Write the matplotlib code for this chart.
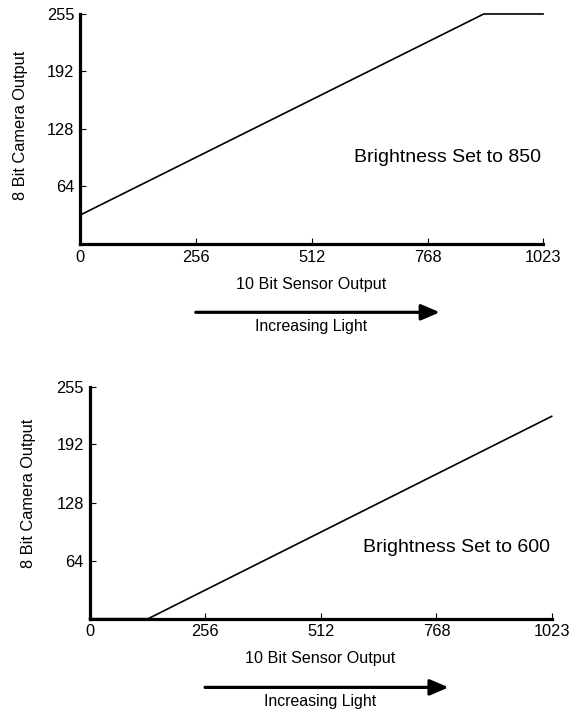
import matplotlib
matplotlib.use("Agg")
import matplotlib.pyplot as plt

plt.rcParams['font.family'] = ['Liberation Sans', 'DejaVu Sans']

# Data
x_ticks = [0, 256, 512, 768, 1023]
y_ticks = [64, 128, 192, 255]

top_x = [0, 892, 1023]
top_y = [32, 255, 255]
top_label = "Brightness Set to 850"

bot_x = [0, 130, 1023]
bot_y = [0, 0, 223]
bot_label = "Brightness Set to 600"

xlabel = "10 Bit Sensor Output"
ylabel = "8 Bit Camera Output"
arrow_label = "Increasing Light"

fig = plt.figure(figsize=(5.79, 7.13), dpi=100)

panels = [
    ([0.1382, 0.6578, 0.7997, 0.3226], top_x, top_y, top_label, 0.374, 0.517, -0.112),
    ([0.1546, 0.1323, 0.7982, 0.3245], bot_x, bot_y, bot_label, 0.306, 0.54, -0.116),
]

for rect, xs, ys, lab, ty, ylab_y, ylab_x in panels:
    ax = fig.add_axes(rect)
    ax.plot(xs, ys, color='black', lw=1.2, clip_on=False, solid_joinstyle='miter')
    ax.set_xlim(0, 1023)
    ax.set_ylim(0, 255)
    ax.spines['top'].set_visible(False)
    ax.spines['right'].set_visible(False)
    for s in ('left', 'bottom'):
        ax.spines[s].set_linewidth(2.3)
    ax.set_xticks(x_ticks)
    ax.set_xticklabels([str(v) for v in x_ticks])
    ax.set_yticks(y_ticks)
    ax.set_yticklabels([str(v) for v in y_ticks])
    ax.tick_params(direction='in', length=4, width=0.8, labelsize=11.8, pad=4)
    ax.set_ylabel(ylabel, fontsize=11.8)
    ax.yaxis.set_label_coords(ylab_x, ylab_y)
    ax.text(0.793, ty, lab, transform=ax.transAxes, ha='center', va='center', fontsize=14)
    ax.text(0.499, -0.174, xlabel, transform=ax.transAxes, ha='center', va='center', fontsize=11.6)
    ax.annotate('', xy=(0.777, -0.297), xytext=(0.25, -0.297),
                xycoords='axes fraction', textcoords='axes fraction',
                arrowprops=dict(arrowstyle='-|>,head_length=0.7,head_width=0.3',
                                lw=2.3, color='black', mutation_scale=16,
                                shrinkA=0, shrinkB=0))
    ax.text(0.499, -0.358, arrow_label, transform=ax.transAxes, ha='center', va='center', fontsize=11.4)

fig.savefig('out.png', dpi=100)
